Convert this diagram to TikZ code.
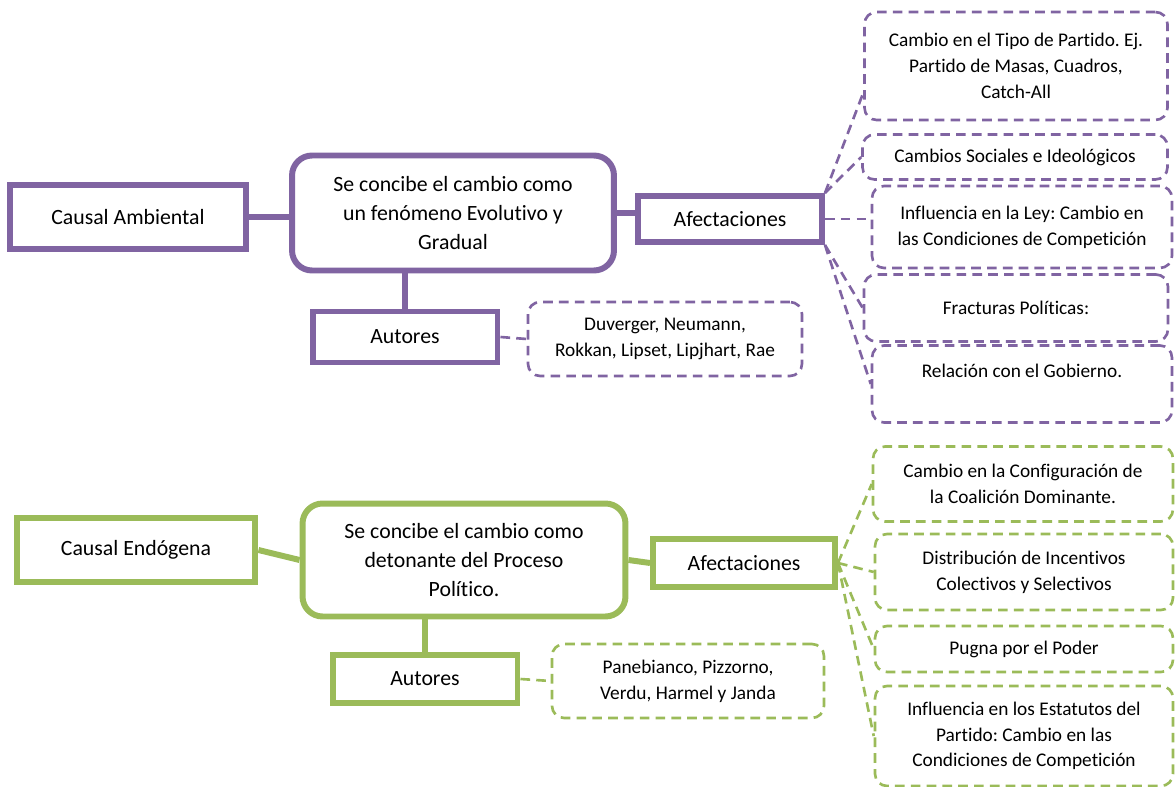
\documentclass[tikz,border=0pt]{standalone}
\usepackage{fontspec}
\setmainfont{Carlito}[Ligatures=NoCommon]
\frenchspacing
\definecolor{ambiental}{HTML}{8064A2}
\definecolor{endogena}{HTML}{9BBB59}

\tikzset{
  caja/.style={draw=#1, line width=3.4pt, fill=white, inner sep=2pt, align=center,
    font=\fontsize{12.4}{16.7}\selectfont},
  nube/.style={draw=#1, line width=1.5pt, dash pattern=on 5.5pt off 3.5pt, rounded corners=0.24cm,
    fill=white, inner sep=2pt, align=center, font=\fontsize{11}{14.7}\selectfont},
  enlace/.style={draw=#1, line width=3.4pt},
  rama/.style={draw=#1, line width=1.5pt, dash pattern=on 5.5pt off 3.5pt}
}

\begin{document}
\begin{tikzpicture}[x=0.02cm, y=-0.02cm]
\useasboundingbox (0,0) rectangle (1176,787);
% upper half: the environmental cause
\node[caja=ambiental, minimum width=4.74cm, minimum height=1.28cm] (causaA) at (128,217) {Causal Ambiental};
\node[caja=ambiental, rounded corners=0.4cm, minimum width=6.44cm, minimum height=2.3cm] (concibeA) at (453,213)
  {Se concibe el cambio como\\ un fenómeno Evolutivo y\\ Gradual};
\node[caja=ambiental, minimum width=3.68cm, minimum height=0.92cm] (afectA) at (730,219) {Afectaciones};
\node[caja=ambiental, minimum width=3.7cm, minimum height=1.02cm] (autoresA) at (405,337) {Autores};
\node[nube=ambiental, minimum width=5.48cm, minimum height=1.48cm] (nombresA) at (665,339)
  {Duverger, Neumann,\\ Rokkan, Lipset, Lipjhart, Rae};
% what the environment affects
\node[nube=ambiental, minimum width=6.06cm, minimum height=2.16cm] (a1) at (1016,66)
  {Cambio en el Tipo de Partido. Ej.\\ Partido de Masas, Cuadros,\\ Catch-All};
\node[nube=ambiental, minimum width=6.1cm, minimum height=0.9cm] (a2) at (1015,157) {Cambios Sociales e Ideológicos};
\node[nube=ambiental, minimum width=6.0cm, minimum height=1.64cm] (a3) at (1022,227)
  {Influencia en la Ley: Cambio en\\ las Condiciones de Competición};
\node[nube=ambiental, minimum width=6.08cm, minimum height=1.34cm] (a4) at (1016,308) {Fracturas Políticas:};
\node[nube=ambiental, minimum width=6.0cm, minimum height=1.54cm] (a5) at (1022,384) {Relación con el Gobierno.\\ \mbox{}};
\draw[enlace=ambiental] (causaA.east) -- (causaA.east -| concibeA.west);
\draw[enlace=ambiental] (concibeA.east) -- (concibeA.east -| afectA.west);
\draw[enlace=ambiental] (autoresA.north |- concibeA.south) -- (autoresA.north);
\draw[rama=ambiental] (autoresA.east) -- (nombresA.west);
\draw[rama=ambiental] (afectA.north east) -- (a1.190);
\draw[rama=ambiental] (afectA.north east) -- (a2.west);
\draw[rama=ambiental] (afectA.east) -- (afectA.east -| a3.west);
\foreach \b in {a4,a5}{\draw[rama=ambiental] (afectA.south east) -- (\b.west);}

% lower half: the endogenous cause
\node[caja=endogena, minimum width=4.78cm, minimum height=1.28cm] (causaE) at (136,550) {Causal Endógena};
\node[caja=endogena, rounded corners=0.4cm, minimum width=6.46cm, minimum height=2.26cm] (concibeE) at (464,560)
  {Se concibe el cambio como\\ detonante del Proceso\\ Político.};
\node[caja=endogena, minimum width=3.64cm, minimum height=0.96cm] (afectE) at (744,563) {Afectaciones};
\node[caja=endogena, minimum width=3.7cm, minimum height=0.96cm] (autoresE) at (425,679) {Autores};
\node[nube=endogena, minimum width=5.44cm, minimum height=1.48cm] (nombresE) at (688,681)
  {Panebianco, Pizzorno,\\ Verdu, Harmel y Janda};
% what the party itself affects
\node[nube=endogena, minimum width=6.0cm, minimum height=1.5cm] (e1) at (1023,484)
  {Cambio en la Configuración de\\ la Coalición Dominante.};
\node[nube=endogena, minimum width=5.96cm, minimum height=1.52cm] (e2) at (1024,572)
  {Distribución de Incentivos\\ Colectivos y Selectivos};
\node[nube=endogena, minimum width=5.96cm, minimum height=0.92cm] (e3) at (1024,649) {Pugna por el Poder};
\node[nube=endogena, minimum width=5.96cm, minimum height=2.0cm] (e4) at (1024,736)
  {Influencia en los Estatutos del\\ Partido: Cambio en las\\ Condiciones de Competición};
\draw[enlace=endogena] (causaE.east) -- (concibeE.west);
\draw[enlace=endogena] (concibeE.east) -- (afectE.west);
\draw[enlace=endogena] (autoresE.north |- concibeE.south) -- (autoresE.north);
\draw[rama=endogena] (autoresE.east) -- (nombresE.west);
\foreach \b in {e1,e2,e3,e4}{\draw[rama=endogena] (afectE.east) -- (\b.west);}
\end{tikzpicture}
\end{document}
